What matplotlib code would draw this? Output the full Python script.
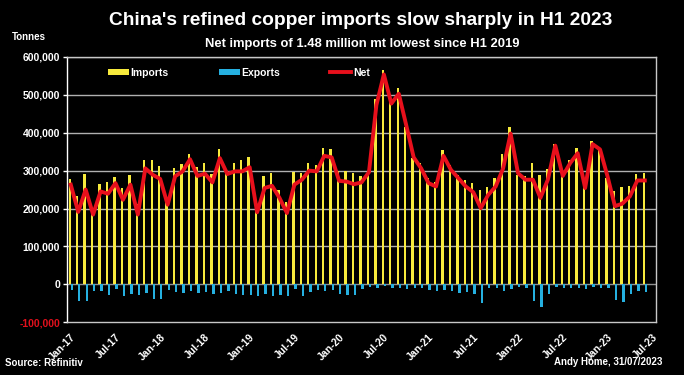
import matplotlib
matplotlib.use("Agg")
import matplotlib.pyplot as plt
from matplotlib.ticker import FuncFormatter
import numpy as np

plt.rcParams['font.family'] = ['Liberation Sans', 'DejaVu Sans']
plt.rcParams['font.weight'] = 'bold'

# months Jan-17 .. Jul-23 (Jul-23 has no data)
years = ['17', '18', '19', '20', '21', '22', '23']
month_names = ['Jan', 'Feb', 'Mar', 'Apr', 'May', 'Jun',
               'Jul', 'Aug', 'Sep', 'Oct', 'Nov', 'Dec']
months = [f'{m}-{y}' for y in years for m in month_names][:79]

# thousand tonnes, Jan-17 .. Jun-23
imports = [278, 234, 292, 202, 264, 270, 282, 253, 288, 213, 328, 327,
           313, 225, 308, 317, 343, 309, 320, 290, 356, 298, 321, 328,
           335, 220, 285, 293, 250, 218, 296, 293, 320, 315, 361, 356,
           298, 298, 293, 286, 300, 490, 565, 482, 517, 416, 333, 320,
           280, 271, 355, 315, 289, 276, 267, 250, 258, 280, 344, 416,
           289, 285, 321, 289, 304, 370, 289, 328, 361, 271, 378, 361,
           280, 245, 257, 260, 292, 293]
exports = [-15, -44, -44, -18, -18, -29, -13, -32, -26, -29, -22, -39,
           -38, -15, -20, -22, -18, -22, -20, -26, -22, -18, -26, -29,
           -29, -31, -26, -32, -29, -31, -13, -31, -20, -15, -19, -15,
           -26, -29, -28, -13, -6, -9, -4, -9, -9, -13, -11, -11,
           -15, -18, -15, -18, -22, -20, -26, -50, -11, -11, -18, -13,
           -6, -11, -44, -59, -26, -6, -11, -9, -11, -13, -6, -9,
           -9, -41, -46, -26, -18, -20]
net = [263, 191, 250, 184, 245, 239, 267, 223, 263, 184, 306, 289,
       278, 210, 285, 298, 330, 286, 292, 269, 333, 291, 298, 298,
       309, 190, 254, 260, 228, 188, 263, 276, 300, 298, 339, 335,
       273, 271, 264, 269, 296, 473, 554, 477, 503, 420, 335, 306,
       267, 258, 339, 302, 280, 258, 243, 201, 236, 258, 306, 398,
       293, 276, 276, 228, 276, 366, 286, 320, 346, 254, 370, 356,
       285, 206, 213, 232, 274, 274]

x = np.arange(len(imports))
imp = np.array(imports) * 1000
exp_ = np.array(exports) * 1000
netv = np.array(net) * 1000

fig = plt.figure(figsize=(6.84, 3.75), dpi=100, facecolor='black')
ax = fig.add_axes([0.098, 0.141, 0.861, 0.707], facecolor='black')

for yv in range(100000, 600001, 100000):
    ax.axhline(yv, color='#b0b0b0', lw=1, zorder=0)
ax.axhline(0, color='#909090', lw=1, zorder=1)

b1 = ax.bar(x - 0.14, imp, width=0.32, color='#f7ea3c', label='Imports', zorder=2)
b2 = ax.bar(x + 0.14, exp_, width=0.32, color='#25b0e0', label='Exports', zorder=2)
l1, = ax.plot(x, netv, color='#e8101c', lw=2.8, label='Net', zorder=3)

ax.set_xlim(-0.5, len(months) - 0.5)
ax.set_ylim(-100000, 600000)
ax.set_yticks(range(-100000, 600001, 100000))
ax.yaxis.set_major_formatter(FuncFormatter(lambda v, p: f'{int(v):,}'))
tick_idx = list(range(0, len(months), 6))
ax.set_xticks(tick_idx)
ax.set_xticklabels([months[i] for i in tick_idx], rotation=45, ha='right',
                   rotation_mode='anchor')
ax.tick_params(axis='y', colors='white', labelsize=7.5, length=3, width=1,
               pad=2)
ax.tick_params(axis='x', colors='white', labelsize=7.5, length=0, pad=7)
for lab in ax.get_yticklabels():
    if lab.get_text().startswith('-'):
        lab.set_color('#e0101c')

for side in ['top', 'right', 'bottom']:
    ax.spines[side].set_color('#c8c8c8')
ax.spines['left'].set_color('white')
for s in ax.spines.values():
    s.set_linewidth(1)

leg = ax.legend([b1, b2, l1], ['Imports', 'Exports', 'Net'],
                loc='upper left', bbox_to_anchor=(0.069, 0.96), ncol=3,
                frameon=False, fontsize=7.5, handlelength=2.0,
                handleheight=0.5, columnspacing=4.8, handletextpad=0.2,
                borderaxespad=0, borderpad=0)
for t in leg.get_texts():
    t.set_color('white')

fig.text(0.528, 0.945, "China's refined copper imports slow sharply in H1 2023",
         color='white', fontsize=13.8, ha='center', va='center')
fig.text(0.53, 0.882, 'Net imports of 1.48 million mt lowest since H1 2019',
         color='white', fontsize=9.4, ha='center', va='center')
fig.text(0.018, 0.9, 'Tonnes', color='white', fontsize=7, ha='left',
         va='center')
fig.text(0.008, 0.032, 'Source: Refinitiv', color='white', fontsize=7,
         ha='left', va='center')
fig.text(0.968, 0.035, 'Andy Home, 31/07/2023', color='white', fontsize=7,
         ha='right', va='center')

fig.savefig('out.png', dpi=100, facecolor='black')
